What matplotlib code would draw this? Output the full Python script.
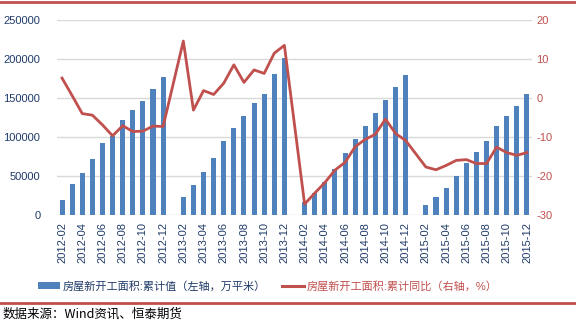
import numpy as np
import matplotlib
matplotlib.use("Agg")
import matplotlib.pyplot as plt
from matplotlib.patches import Patch
from matplotlib.lines import Line2D

plt.rcParams['font.family'] = ['Liberation Sans', 'Noto Sans CJK SC', 'DejaVu Sans']

nan = np.nan
categories = (["2012-%02d" % m for m in range(2, 13)]
              + ["2013-%02d" % m for m in range(1, 13)]
              + ["2014-%02d" % m for m in range(1, 13)]
              + ["2015-%02d" % m for m in range(1, 13)])

cum_area = [19200, 39900, 54000, 72000, 92300, 101700, 121800, 134600, 146200, 161500, 177300,
            nan, 23100, 38500, 55100, 73100, 94900, 112000, 126900, 143600, 155100, 180800, 201200,
            nan, 16900, 28600, 42700, 58500, 79900, 97900, 114100, 130800, 147400, 164100, 179600,
            nan, 13200, 23500, 35000, 50400, 67100, 80800, 94900, 114100, 126900, 139700, 154500]

cum_yoy = [5.1, 0.6, -4.0, -4.4, -6.9, -9.7, -7.1, -8.6, -8.5, -7.2, -7.3,
           nan, 14.6, -3.1, 1.9, 0.9, 3.8, 8.5, 4.0, 7.2, 6.3, 11.5, 13.5,
           nan, -27.2, -24.4, -21.7, -18.5, -16.5, -12.5, -10.6, -9.3, -5.4, -9.1, -10.9,
           nan, -17.7, -18.4, -17.3, -16.0, -15.8, -16.8, -16.8, -12.6, -14.0, -14.7, -14.0]

left_ticks = [0, 50000, 100000, 150000, 200000, 250000]
right_ticks = [-30, -20, -10, 0, 10, 20]

bar_label = "房屋新开工面积:累计值（左轴，万平米）"
line_label = "房屋新开工面积:累计同比（右轴，%）"
source = "数据来源：Wind资讯、恒泰期货"

BLUE = "#4F81BD"
RED = "#C0504D"
NAVY = "#1F3A68"

fig = plt.figure(figsize=(5.76, 3.24), dpi=100)
ax = fig.add_axes([57/576, 1-215/324, 475/576, 195/324])
x = np.arange(len(categories))
ax.bar(x, cum_area, width=0.5, color=BLUE, zorder=2)
ax.set_ylim(0, 250000)
ax.set_xlim(-0.5, len(categories)-0.5)
ax.set_yticks(left_ticks)
ax.set_yticklabels([str(v) for v in left_ticks])
ax.grid(axis='y', color='#D9D9D9', linewidth=1, zorder=0)
ax.set_axisbelow(True)
for s in ax.spines.values():
    s.set_visible(False)
ax.tick_params(axis='y', length=0, pad=12, labelsize=8, labelcolor=NAVY)
ax.set_xticks(x[::2])
ax.set_xticklabels(categories[::2], rotation=90)
ax.tick_params(axis='x', length=0, pad=5, labelsize=8, labelcolor=NAVY)

ax2 = ax.twinx()
yoy = np.array(cum_yoy, dtype=float)
mask = ~np.isnan(yoy)
ax2.plot(x[mask], yoy[mask], color=RED, linewidth=2.0, zorder=3, solid_joinstyle='round')
ax2.set_ylim(-30, 20)
ax2.set_yticks(right_ticks)
ax2.set_yticklabels([str(v) for v in right_ticks])
for s in ax2.spines.values():
    s.set_visible(False)
ax2.tick_params(axis='y', length=0, pad=3, labelsize=8, labelcolor=RED)

handles = [Patch(facecolor=BLUE, edgecolor='none'),
           Line2D([0], [0], color=RED, linewidth=2.2)]
leg = fig.legend(handles, [bar_label, line_label], loc='center left',
                 bbox_to_anchor=(38/576, 1-286/324), ncol=2, frameon=False,
                 fontsize=8, handlelength=2.0, handleheight=0.5, handletextpad=0.25,
                 columnspacing=1.4, borderpad=0, borderaxespad=0)
leg.get_texts()[0].set_color(NAVY)
leg.get_texts()[1].set_color(RED)

fig.add_artist(Line2D([0, 1], [1-2/324, 1-2/324], color=RED, linewidth=2, transform=fig.transFigure))
fig.add_artist(Line2D([0, 1], [1-303/324, 1-303/324], color=RED, linewidth=2, transform=fig.transFigure))
fig.text(3/576, 1-314/324, source, fontsize=9, color='black', va='center', ha='left',
         family=['Noto Sans CJK SC', 'DejaVu Sans'])

fig.savefig("out.png", dpi=100)
